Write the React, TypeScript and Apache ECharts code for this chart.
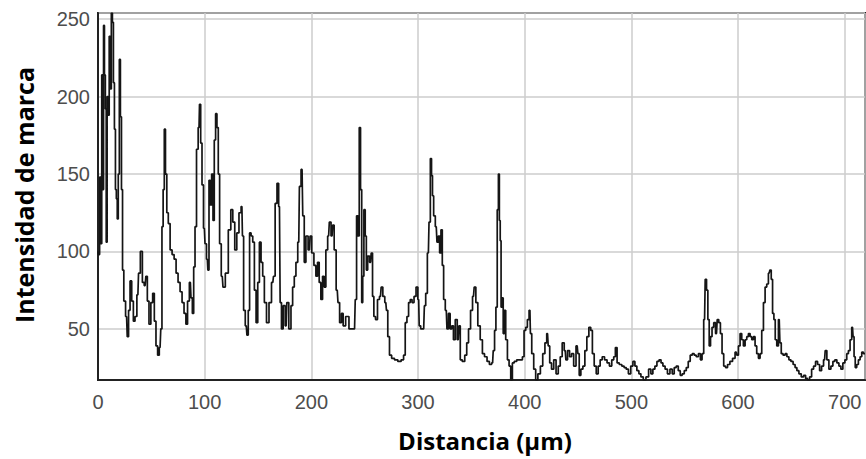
import React, { useEffect, useRef } from "react";
import * as echarts from "echarts";

// Distance along the profile (µm)
const distanceUm: number[] = [
  0, 1, 2, 3, 4, 4.8, 5.6, 6.5, 7.3, 8.1,
  9, 10, 11, 12, 13, 14, 14.9, 15.9, 16.8, 17.6,
  18.5, 19.5, 20.5, 21.5, 22.5, 23.5, 24.9, 26.8, 28, 29.3,
  30.8, 32.4, 33.9, 35.5, 37.4, 38.6, 40.8, 42.4, 44.2, 45.5,
  47, 48.6, 50.5, 52, 53.6, 55.1, 56.7, 58.2, 59.5, 60.4,
  61.7, 62.6, 63.9, 65.1, 66.7, 68.5, 70.4, 72.3, 74.1, 76,
  77.9, 79.7, 81.6, 83.2, 84.7, 86.6, 87.8, 89.1, 90.3, 91.6,
  93.1, 94.7, 95.6, 96.9, 98.1, 99.7, 100.9, 102.5, 103.4, 104.7,
  105.9, 107.2, 108.4, 109.6, 110.9, 112.1, 113.4, 114.6, 116.5,
  117.8, 120.9, 123.4, 125.6, 127.1, 129.3, 130.9, 133.4, 134.9, 135.9,
  137.1, 139, 140.2, 141.5, 142.7, 144.3, 145.8, 147.4, 149, 150.5,
  152.1, 153.6, 155.2, 156.7, 159.2, 161.4, 163.9, 165.1, 167, 168.6,
  170.1, 171.4, 172.6, 174.5, 176.4, 177.6, 180.1, 181.7, 183.2, 184.8,
  186.3, 188.2, 189.4, 191.3, 192.6, 194.1, 195.7, 198.2, 199.4, 201.3,
  203.5, 205, 206.6, 208.1, 209.7, 211.3, 212.8, 214.4, 216.2, 217.5,
  219.4, 220.6, 222.2, 224.3, 225.6, 227.4, 229, 230.6, 233.7, 236.8,
  240.5, 241.8, 243, 244.3, 245.5, 246.7, 247.7, 248.6, 249.9, 251.1,
  252, 253.6, 255.5, 256.7, 258, 259.2, 261.1, 262.9, 264.8, 266.1,
  267.9, 269.8, 271, 272.3, 274.2, 276.3, 279.5, 282.6, 285.7, 287.2,
  288.8, 290.4, 291.9, 293.5, 295.3, 297.2, 299.1, 300.6, 301.6, 303.4,
  305.3, 306.6, 307.8, 309.7, 310.9, 312.2, 313.1, 314, 315.3, 317.1,
  318.4, 319.6, 320.9, 322.1, 323.4, 324.6, 326.5, 327.7, 329.3, 330.9,
  332.4, 334, 335.8, 337.7, 339, 340.2, 342.7, 344.9, 346.4, 348.3,
  350.2, 352, 353.3, 355.1, 357,
  359.6, 361.1, 363.6, 365.8, 368, 369.9, 371.1, 372.4, 373.6, 374.9,
  375.8, 376.7, 377.4, 378.3, 379.2, 380.5, 381.4, 383, 384.6, 386.1,
  387.7, 389.2, 391.1, 393.9, 397.1, 398.6, 400.2, 401.7, 403.3, 404.9,
  405.8, 407.4, 409.5, 411.1, 413.6, 415.8, 418, 419.9, 421.4, 422.7,
  424.2, 426.1, 428.3, 430.5, 432.4, 434.2, 436.1, 438, 439.2, 441.1,
  443, 444.8, 447, 449.2, 450.5, 451.7, 453.6, 455.5, 457.3, 459.2,
  461.1, 462.7, 464.2, 466.1, 468, 469.8, 471.7, 473.6, 476.1, 478.3,
  480.5, 482.7, 484.2, 485.8, 487.4, 489.9, 492.1, 494.2, 496.1, 498.3,
  500.5, 502.4, 504.2, 506.1, 508, 509.9, 512.4, 514.9, 517.4, 519.2,
  521.1, 523, 524.9, 527, 528.6, 530.5, 532.7, 534.9, 537.4, 539.2,
  541.1, 543, 544.9, 546.7, 548.6, 550.5, 552.4, 554.2, 556.1, 558,
  559.8, 561.7, 563.9, 565.5, 567, 568.6, 569.8, 571.1, 572.3, 573.6,
  574.8, 576.4, 578, 579.8, 581.1, 582.7, 584.2, 585.8, 587.3, 589.2,
  591.1, 593.6, 596.1, 598.3,
  599.6, 601.1, 602.7, 604.2, 605.8, 607.4, 608.9, 610.5, 612.1, 613.6,
  615.2, 616.7, 618.3, 619.9, 621.4, 623, 624.6, 626.1, 627.7, 629.2,
  630.5, 631.7, 633, 634.2, 635.5, 637.1, 638.6, 639.9, 641.1, 643.3,
  644.9, 646.7, 648.6, 650.5, 652.7, 654.2, 656.1, 658, 660.5, 662.4,
  664.2, 666.1, 668, 669.9, 671.7, 673.6, 675.5, 677.4, 679.2, 681.1,
  682.3, 684.2, 686.1, 688, 689.8, 691.7, 693.6, 695.5, 697.3, 699.2,
  701.1, 702.7, 704.2, 705.8, 707.3, 708.3, 709.2, 710.5, 712, 713.6,
  715.2, 716.7, 718.3, 719,
];

// Mark intensity at each distance
const intensity: number[] = [
  100, 98, 148, 105, 214, 140, 246, 214, 192, 106,
  200, 188, 239, 205, 254, 248, 209, 179, 140, 134,
  121, 150, 224, 187, 140, 88, 68, 58, 45, 62,
  81, 68, 55, 58, 72, 86, 100, 80, 78, 84,
  68, 53, 67, 73, 55, 39, 33, 38, 50, 116,
  140, 179, 150, 125, 118, 101, 98, 95, 86, 80,
  74, 67, 60, 53, 68, 80, 70, 60, 90, 116,
  166, 180, 195, 170, 143, 115, 105, 95, 88, 146,
  130, 150, 120, 172, 189, 180, 150, 105, 84,
  77, 86, 114, 127, 119, 101, 112, 125, 129, 110,
  62, 52, 46, 62, 112, 110, 106, 75, 54, 80,
  106, 93, 84, 67, 54, 67, 80, 84, 131, 144,
  129, 67, 50, 65, 52, 67, 50, 65, 77, 84,
  93, 106, 142, 153, 123, 93, 110, 101, 110, 99,
  91, 84, 93, 80, 69, 84, 77, 101, 110, 119,
  110, 117, 101, 75, 67, 54, 60, 52, 58, 50,
  50, 69, 123, 110, 180, 140, 67, 84, 127, 110,
  88, 97, 93, 99, 71, 58, 56, 69, 71, 77,
  71, 67, 62, 45, 33, 31, 30, 29, 30, 33,
  54, 58, 67, 69, 67, 71, 77, 69, 52, 50,
  50, 65, 73, 99, 119, 160, 149, 136, 123, 116,
  106, 110, 99, 114, 91, 69, 62, 50, 60, 50,
  52, 43, 56, 43, 52, 30, 29, 33, 41, 50,
  62, 71, 77, 67, 52,
  43, 34, 32, 29, 27, 28, 36, 49, 64, 127,
  150, 120, 107, 64, 70, 47, 62, 43, 30, 26,
  17, 28, 29, 30, 30, 32, 49, 51, 56, 62,
  47, 34, 24, 17, 21, 26, 34, 41, 47, 39,
  28, 24, 30, 21, 26, 32, 41, 36, 30, 36,
  32, 34, 26, 39, 34, 20, 24, 26, 36, 45,
  51, 49, 34, 26, 21, 26, 30, 32, 30, 28,
  26, 30, 32, 38, 28, 27, 26, 25, 24, 21,
  26, 29, 26, 23, 21, 19, 17, 19, 24, 21,
  24, 26, 29, 30, 28, 26, 24, 21, 24, 21,
  25, 26, 23, 20, 21, 23, 25, 29, 33, 34,
  33, 32, 34, 30, 34, 56, 82, 75, 56, 39,
  45, 51, 54, 47, 56, 54, 47, 34, 26, 25,
  27, 29, 31, 35,
  33, 39, 47, 43, 39, 43, 45, 47, 45, 43,
  45, 39, 34, 31, 34, 49, 67, 77, 79, 86,
  88, 82, 60, 56, 43, 39, 56, 41, 34, 33,
  34, 32, 30, 29, 27, 25, 23, 21, 19, 20,
  18, 17, 19, 24, 26, 29, 27, 23, 26, 30,
  36, 30, 24, 26, 29, 30, 28, 26, 24, 28,
  30, 34, 36, 43, 51, 45, 32, 25, 27, 30,
  32, 35, 34, 34,
];

const xTickValues = [0, 100, 200, 300, 400, 500, 600, 700];
const yTickValues = [50, 100, 150, 200, 250];

export default function App() {
  const ref = useRef<HTMLDivElement>(null);

  useEffect(() => {
    document.body.style.margin = "0";
    const chart = echarts.init(ref.current!, null, { renderer: "svg" });
    const data = distanceUm.map((d, i) => [d, intensity[i]]);
    chart.setOption({
      animation: false,
      backgroundColor: "#ffffff",
      grid: {
        left: 98,
        top: 13,
        right: 1,
        bottom: 79,
        show: true,
        borderColor: "#222222",
        borderWidth: 2,
        backgroundColor: "transparent",
        containLabel: false,
      },
      xAxis: {
        type: "value",
        min: 0,
        max: 719,
        interval: 100,
        axisLine: { show: true, lineStyle: { color: "#222222", width: 2 } },
        axisTick: { show: false },
        splitLine: { show: true, lineStyle: { color: "#cccccc", width: 1.5 } },
        axisLabel: {
          color: "#4d4d4d",
          fontSize: 20,
          fontFamily: "Liberation Sans",
          margin: 12,
          showMaxLabel: false,
          formatter: (v: number) => (xTickValues.includes(v) ? String(v) : ""),
        },
      },
      yAxis: {
        type: "value",
        min: 17,
        max: 254,
        minInterval: 50,
        maxInterval: 50,
        axisLine: { show: true, lineStyle: { color: "#222222", width: 2 } },
        axisTick: { show: false },
        splitLine: { show: true, lineStyle: { color: "#cccccc", width: 1.5 } },
        axisLabel: {
          color: "#4d4d4d",
          fontSize: 20,
          fontFamily: "Liberation Sans",
          margin: 8,
          showMinLabel: false,
          showMaxLabel: false,
          formatter: (v: number) => (yTickValues.includes(v) ? String(v) : ""),
        },
      },
      series: [
        {
          type: "line",
          data,
          step: "middle",
          symbol: "none",
          lineStyle: { color: "#151515", width: 1.7 },
          z: 3,
        },
      ],
      graphic: [
        {
          type: "text",
          x: 24,
          y: 195,
          rotation: Math.PI / 2,
          style: {
            text: "Intensidad de marca",
            font: 'bold 25px "Open Sans"',
            fill: "#000000",
            textAlign: "center",
            textVerticalAlign: "middle",
          },
        },
        {
          type: "text",
          x: 485,
          y: 440,
          style: {
            text: "Distancia (µm)",
            font: 'bold 24px "Open Sans"',
            fill: "#000000",
            textAlign: "center",
            textVerticalAlign: "middle",
          },
        },
      ],
    });
    return () => chart.dispose();
  }, []);

  return (
    <div
      ref={ref}
      style={{ width: 866, height: 459, position: "absolute", left: 0, top: 0 }}
    />
  );
}
